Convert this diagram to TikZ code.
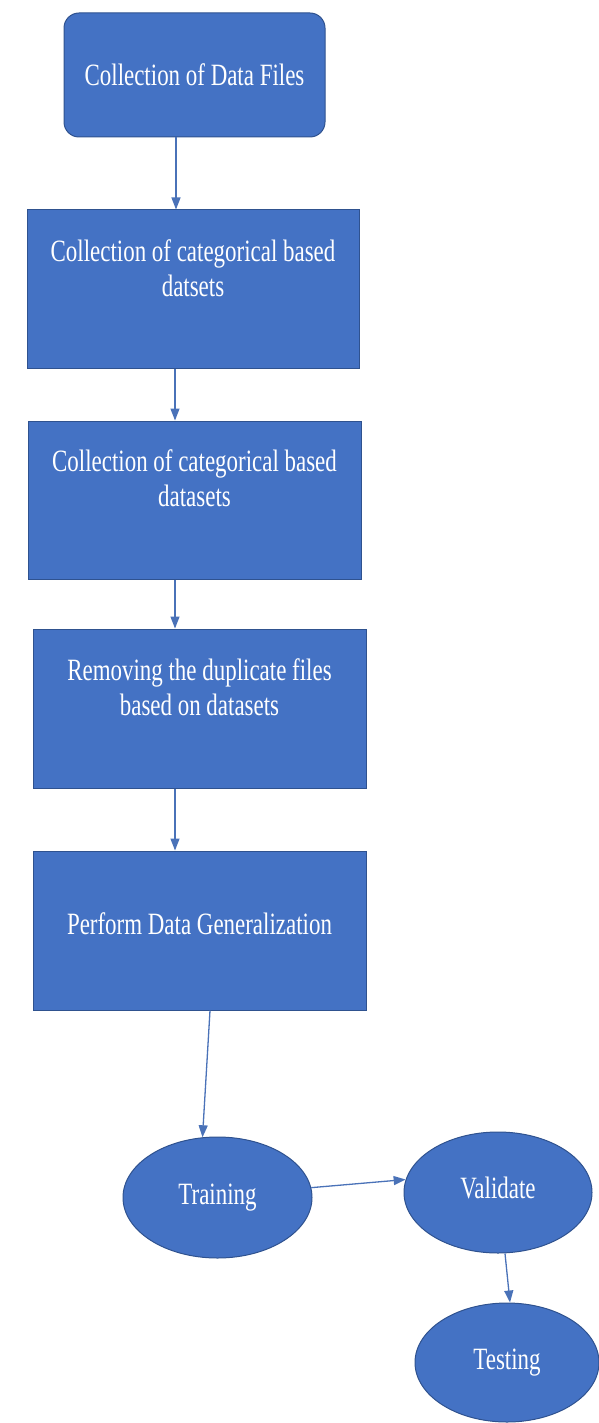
\documentclass[tikz,border=0pt]{standalone}
\usepackage{fontspec}
\setmainfont{Liberation Serif}[FakeStretch=0.74]
\usetikzlibrary{shapes.geometric,arrows.meta}
\definecolor{boxblue}{HTML}{4472C4}
\definecolor{edgeblue}{HTML}{2F528F}
\definecolor{arrowblue}{HTML}{4A72B8}
\begin{document}
\begin{tikzpicture}[x=1pt,y=-1pt,
  shapebase/.style={fill=boxblue,draw=edgeblue,line width=1pt,inner sep=0pt},
  stepbox/.style={shapebase,rectangle},
  roundbox/.style={shapebase,rectangle,rounded corners=15pt},
  oval/.style={shapebase,ellipse},
  txt/.style={text=white,font=\fontsize{31}{35}\selectfont,align=center,anchor=base,inner sep=0pt},
  conn/.style={draw=arrowblue,line width=1.3pt,-{Triangle[length=12pt,width=9pt]}}]
\useasboundingbox (0,0) rectangle (599,1423);

\node[roundbox,minimum width=261pt,minimum height=124pt,
  label={[txt]center:Collection of Data Files}] (b1) at (194.5,75) {};
\node[stepbox,minimum width=332pt,minimum height=158pt,
  label={[txt,yshift=21pt]center:{Collection of categorical based\\datsets}}] (b2) at (193,289) {};
\node[stepbox,minimum width=333pt,minimum height=158pt,
  label={[txt,yshift=22pt]center:{Collection of categorical based\\datasets}}] (b3) at (194.5,500) {};
\node[stepbox,minimum width=333pt,minimum height=159pt,
  label={[txt,yshift=21.5pt]center:{Removing the duplicate files\\based on datasets}}] (b4) at (199.5,708.5) {};
\node[stepbox,minimum width=333pt,minimum height=159pt,
  label={[txt,yshift=6.5pt]center:Perform Data Generalization}] (b5) at (199.5,930.5) {};
\node[oval,minimum width=189pt,minimum height=121pt,
  label={[txt]center:Training}] (tr) at (217.5,1197.5) {};
\node[oval,minimum width=188pt,minimum height=121pt,
  label={[txt,yshift=4.5pt]center:Validate}] (va) at (498,1192.5) {};
\node[oval,minimum width=184pt,minimum height=119pt,
  label={[txt]center:Testing}] (te) at (507,1362.5) {};

\draw[conn] ([xshift=-18.5pt]b1.south) -- ([xshift=-17pt]b2.north);
\draw[conn] ([xshift=-18pt]b2.south) -- ([xshift=-19.5pt]b3.north);
\draw[conn] ([xshift=-19.5pt]b3.south) -- ([xshift=-24.5pt]b4.north);
\draw[conn] ([xshift=-24.5pt]b4.south) -- ([xshift=-24.5pt]b5.north);
\draw[conn] ([xshift=10.5pt]b5.south) -- (tr.104);
\draw[conn] (tr.6) -- (va.172);
\draw[conn] ([xshift=7pt]va.south) -- ([xshift=3pt]te.north);
\end{tikzpicture}
\end{document}
